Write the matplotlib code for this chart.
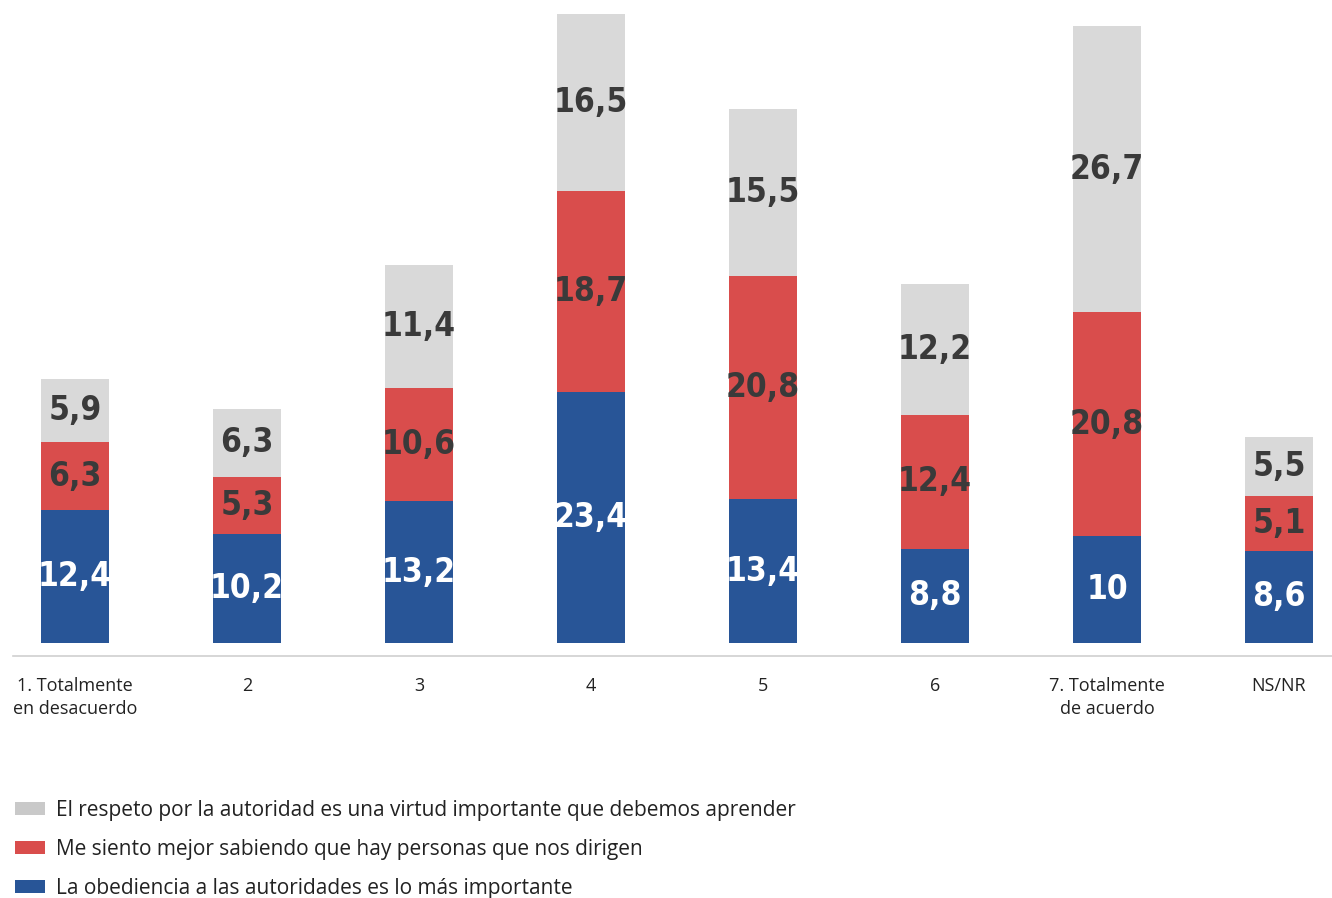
import matplotlib
matplotlib.use("Agg")
import os
import matplotlib.pyplot as plt
from matplotlib import font_manager
from matplotlib.font_manager import FontProperties
from matplotlib.patches import Patch

categories = ["1. Totalmente\nen desacuerdo", "2", "3", "4", "5", "6", "7. Totalmente\nde acuerdo", "NS/NR"]
obediencia = [12.4, 10.2, 13.2, 23.4, 13.4, 8.8, 10.0, 8.6]
mejor = [6.3, 5.3, 10.6, 18.7, 20.8, 12.4, 20.8, 5.1]
respeto = [5.9, 6.3, 11.4, 16.5, 15.5, 12.2, 26.7, 5.5]
series_names = [
    "El respeto por la autoridad es una virtud importante que debemos aprender",
    "Me siento mejor sabiendo que hay personas que nos dirigen",
    "La obediencia a las autoridades es lo más importante",
]

C_GREY = "#d9d9d9"
C_RED = "#d94d4c"
C_BLUE = "#285597"
C_TXT = "#3a3a3a"

# pick a condensed bold font for the numbers
files = [f.fname for f in font_manager.fontManager.ttflist]
prefs = [("NotoSans-ExtraCondensedBold", 34), ("NotoSans-CondensedBold", 30),
         ("LiberationSansNarrow-Bold", 30), ("DejaVuSansCondensed-Bold", 24),
         ("RobotoCondensed-Bold", 30), ("LiberationSans-Bold", 25)]
num_prop = None
for key, size in prefs:
    hits = [f for f in files if os.path.basename(f).startswith(key + ".")]
    if hits:
        num_prop = FontProperties(fname=hits[0], size=size)
        break
if num_prop is None:
    num_prop = FontProperties(family="DejaVu Sans", weight="bold", size=22)

names = {f.name for f in font_manager.fontManager.ttflist}
txt_family = "Open Sans" if "Open Sans" in names else "DejaVu Sans"

fig = plt.figure(figsize=(13.32, 8.98), dpi=100)
ax = fig.add_axes([13/1332, 1 - 656/898, 1319/1332, 656/898])

x = list(range(len(categories)))
w = 0.395
ax.bar(x, obediencia, width=w, color=C_BLUE, zorder=2)
ax.bar(x, mejor, width=w, bottom=obediencia, color=C_RED, zorder=2)
bottom3 = [a + b for a, b in zip(obediencia, mejor)]
ax.bar(x, respeto, width=w, bottom=bottom3, color=C_GREY, zorder=2)

def fmt(v):
    s = f"{v:.1f}".replace(".", ",")
    if s.endswith(",0"):
        s = s[:-2]
    return s

for i in x:
    ax.text(i, obediencia[i] / 2, fmt(obediencia[i]), ha="center", va="center",
            color="white", fontproperties=num_prop, zorder=3)
    ax.text(i, obediencia[i] + mejor[i] / 2, fmt(mejor[i]), ha="center", va="center",
            color=C_TXT, fontproperties=num_prop, zorder=3)
    ax.text(i, bottom3[i] + respeto[i] / 2, fmt(respeto[i]), ha="center", va="center",
            color=C_TXT, fontproperties=num_prop, zorder=3)

ax.set_xlim(-0.360, 7.308)
ax.set_ylim(-1.21, 59.9)
ax.set_yticks([])
for s in ["top", "left", "right"]:
    ax.spines[s].set_visible(False)
ax.spines["bottom"].set_color("#d0d0d0")
ax.spines["bottom"].set_linewidth(1.2)
ax.set_xticks(x)
ax.set_xticklabels(categories, fontsize=13, family=txt_family, color="#222222", linespacing=1.4)
ax.tick_params(axis="x", length=0, pad=15)

handles = [Patch(facecolor="#c9c9c9", edgecolor="none"),
           Patch(facecolor=C_RED, edgecolor="none"),
           Patch(facecolor=C_BLUE, edgecolor="none")]
fig.legend(handles, series_names, loc="upper left", bbox_to_anchor=(15/1332, 1 - 800/898),
           frameon=False, borderpad=0, borderaxespad=0, handlelength=1.44, handleheight=0.55,
           handletextpad=0.55, labelspacing=0.86, prop=dict(family=txt_family, size=15),
           labelcolor="#222222")

fig.savefig("out.png", dpi=100)
